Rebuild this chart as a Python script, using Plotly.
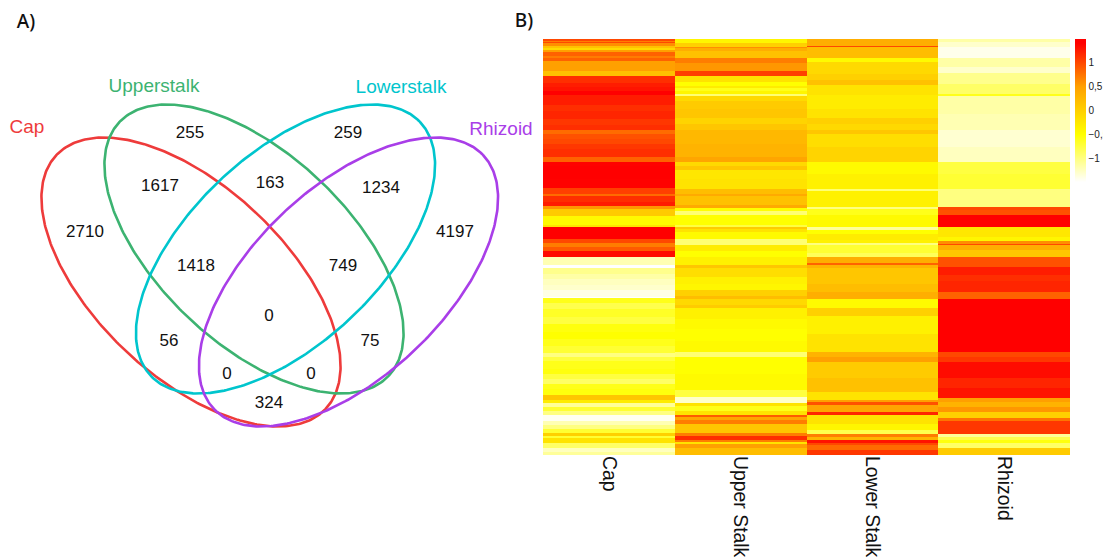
import numpy as np
import plotly.graph_objects as go

# ---- Venn data ----
SET_NAMES = ["Cap", "Upperstalk", "Lowerstalk", "Rhizoid"]
SET_COLORS = ["#EE3B3B", "#3CB371", "#00C5CD", "#A93EE8"]
COUNTS = [2710, 255, 259, 4197, 1617, 163, 1234, 1418, 749, 0, 56, 75, 0, 0, 324]

# ---- Heatmap data: (last row of band, value) ----
CATEGORIES = ["Cap", "Upper Stalk", "Lower Stalk", "Rhizoid"]
CAP = [(2,1.0),(3,0.7),(4,1.0),(7,0.6),(9,0.15),(11,-0.1),(13,0.5),(17,0.85),(19,0.7),(22,0.85),(32,0.5),(37,0.15),
       (44,1.15),(48,1.25),(52,1.3),(56,1.45),(66,1.25),(72,1.15),(80,1.2),(86,1.1),(91,1.15),(95,0.8),(100,0.95),(105,1.0),(110,1.1),(118,1.15),(123,0.85),
       (127,1.4),(131,1.45),(140,1.5),(149,1.4),(155,1.05),(157,0.8),(163,1.15),(167,1.25),(170,0.55),(177,0.05),(186,-0.45),(188,-0.2),
       (200,1.5),(204,1.0),(208,0.7),(212,0.9),(218,1.35),(226,-1.2),(229,-1.5),(235,-1.05),(240,-1.15),(246,-1.25),(251,-1.3),(258,-1.4),(259,-1.5),
       (264,-0.6),(270,-0.8),(278,-0.65),(285,-0.75),(293,-0.55),(300,-0.5),(307,-0.6),(314,-0.7),(318,-1.0),(322,-0.75),(330,-0.6),(335,-0.55),(340,-0.75),(345,-0.9),(350,-0.6),(356,-0.55),(361,0.1),(364,-0.3),
       (368,-1.1),(372,-0.7),(376,-1.0),(382,-1.45),(386,-1.2),(390,-1.0),(394,-0.7),(397,0.0),(399,-0.7),(404,-0.2),(409,-0.9),(413,-1.25),(416,-1.1)]
UPPER = [(4,-0.4),(8,0.0),(9,0.6),(12,0.35),(19,0.15),(24,0.7),(32,0.55),(37,1.05),(43,-0.2),(47,-0.5),(49,-0.3),(52,-0.6),(55,-0.4),(57,-0.95),
         (62,-0.1),(70,0.05),(79,0.1),(85,-0.05),(91,0.1),(105,0.25),(118,0.3),(123,0.45),(127,-0.1),(131,0.1),(140,-0.25),(150,-0.2),(155,0.2),(157,0.4),(166,0.15),(169,0.4),
         (172,-0.5),(176,-0.95),(186,-0.5),(188,-0.75),(190,0.05),(193,-0.2),(200,-0.45),(206,-0.95),(212,-0.3),(218,-0.5),
         (226,-0.35),(229,0.1),(238,-0.15),(245,-0.35),(251,-0.4),(257,0.0),(260,0.2),(266,-0.1),(269,0.05),(280,-0.35),(290,-0.45),(302,-0.5),(313,-0.45),(318,-0.95),(335,-0.5),(351,-0.45),(358,-0.75),
         (364,-1.3),(367,-0.2),(372,-0.6),(376,-0.2),(378,0.9),(381,0.45),(385,0.7),(394,0.1),(397,0.7),(401,1.15),(403,0.7),(405,-0.2),(409,0.5),(416,0.2)]
LOWER = [(7,0.35),(8,1.0),(19,0.2),(23,-0.45),(35,-0.1),(41,0.0),(46,0.15),(56,-0.2),(70,-0.3),(79,-0.2),(85,0.0),(91,-0.1),(95,0.1),(108,-0.15),(123,-0.05),
         (135,-0.45),(150,-0.35),(152,-0.95),(168,-0.35),(170,-1.0),(176,-0.6),(188,-0.45),(191,-1.1),(195,-0.5),(201,-0.3),
         (204,-0.35),(206,-1.0),(214,-0.7),(218,-0.85),(224,0.35),(226,0.85),(229,0.3),(245,0.1),(253,0.2),(260,0.35),(269,-0.45),(277,0.0),(295,-0.35),(313,-0.2),
         (318,0.3),(323,0.5),(339,0.05),(353,0.15),(361,-0.2),(363,0.5),(366,0.95),(373,0.45),(376,1.2),(385,-0.2),(391,-0.4),(395,-0.8),(398,0.7),(401,0.3),(404,1.3),(406,1.0),(411,0.8),(416,1.1)]
RHIZOID = [(3,-1.15),(8,-1.3),(19,-1.42),(28,-1.15),(34,-1.3),(45,-1.05),(55,-0.9),(57,-0.6),(75,-1.15),(91,-1.2),(108,-1.32),(123,-1.25),(135,-0.75),(150,-0.7),(168,-1.0),
           (171,1.0),(176,0.95),(188,1.5),(198,-0.25),(202,-0.4),(205,0.6),(206,1.0),(211,0.35),(218,0.1),(228,0.95),
           (236,1.25),(242,1.15),(253,1.2),(260,0.85),(313,1.5),(318,1.0),(323,1.1),(339,1.35),(349,1.2),(359,1.3),(363,0.5),(368,0.3),(373,0.55),(379,0.0),(382,0.75),(395,1.1),(398,-1.1),(401,-0.8),(404,-0.55),(409,-0.9),(416,0.05)]

COLORBAR_TICKS = [-1, -0.5, 0, 0.5, 1]
COLORBAR_LABELS = ["\u22121", "\u22120,5", "0", "0,5", "1"]


def expand(bands):
    out, start = [], 0
    for end, value in bands:
        out.extend([value] * (end - start))
        start = end
    return out


W, H = 1103, 558
z = np.array([expand(c) for c in (CAP, UPPER, LOWER, RHIZOID)]).T

fig = go.Figure()

fig.add_trace(go.Heatmap(
    z=z, x=CATEGORIES, zmin=-1.5, zmax=1.5,
    colorscale=[[0, "#FFFFFF"], [1/3, "#FFFF00"], [2/3, "#FFA000"], [0.97, "#FF0000"], [1, "#FF0000"]],
    xaxis="x", yaxis="y", hoverinfo="skip",
    colorbar=dict(
        thickness=11, thicknessmode="pixels", len=143, lenmode="pixels",
        x=1075 / W, xanchor="left", xpad=0, y=1 - 39 / H, yanchor="top", ypad=0,
        outlinewidth=0, borderwidth=0, ticks="", tickvals=COLORBAR_TICKS, ticktext=COLORBAR_LABELS,
        ticklabelposition="outside",
        tickfont=dict(family="Liberation Sans", size=10, color="#222222"),
    ),
))

# Venn ellipses: centre x, centre y, tilt (page pixels on overlay axes)
ELLIPSES = [(191, 282, 43.3), (254, 249, 43.3), (285.5, 249, -43.3), (348.5, 282, -43.3)]
A, B = 185, 95
t = np.radians(np.arange(0, 361, 1.0))
for (cx, cy, ang), name, col in zip(ELLIPSES, SET_NAMES, SET_COLORS):
    th = np.radians(ang)
    ex = cx + A * np.cos(t) * np.cos(th) - B * np.sin(t) * np.sin(th)
    ey = cy + A * np.cos(t) * np.sin(th) + B * np.sin(t) * np.cos(th)
    fig.add_trace(go.Scatter(x=ex, y=ey, mode="lines", line=dict(color=col, width=2.6),
                             xaxis="x2", yaxis="y2", showlegend=False, hoverinfo="skip", name=name))

COUNT_POS = [(85, 233), (190, 134), (348, 134), (455, 233), (160, 187), (270, 184), (381, 189),
             (196, 267), (343, 267), (269, 317), (169, 342), (370, 342), (227, 375), (311, 375), (269, 404)]
fig.add_trace(go.Scatter(
    x=[p[0] for p in COUNT_POS], y=[p[1] for p in COUNT_POS], mode="text",
    text=[str(c) for c in COUNTS], textposition="middle center",
    textfont=dict(family="Liberation Sans", size=17, color="#111111"),
    xaxis="x2", yaxis="y2", showlegend=False, hoverinfo="skip",
))
LABEL_POS = [(27, 128), (154, 87), (401, 88), (501, 130)]
fig.add_trace(go.Scatter(
    x=[p[0] for p in LABEL_POS], y=[p[1] for p in LABEL_POS], mode="text",
    text=SET_NAMES, textposition="middle center",
    textfont=dict(family="Liberation Sans", size=19, color=SET_COLORS),
    xaxis="x2", yaxis="y2", showlegend=False, hoverinfo="skip",
))
fig.add_trace(go.Scatter(
    x=[26, 524], y=[23, 22], mode="text", text=["A)", "B)"], textposition="middle center",
    textfont=dict(family="Noto Sans", size=19, weight=500, color="#111111"),
    xaxis="x2", yaxis="y2", showlegend=False, hoverinfo="skip",
))

fig.update_layout(
    width=W, height=H, autosize=False,
    margin=dict(l=0, r=0, t=0, b=0, autoexpand=False),
    paper_bgcolor="white", plot_bgcolor="rgba(0,0,0,0)",
    showlegend=False,
    xaxis=dict(domain=[543 / W, 1070 / W], tickangle=90, ticks="", showgrid=False, zeroline=False,
               showline=False, automargin=False, tickfont=dict(family="Liberation Sans", size=19.4, color="#111111"),
               anchor="y"),
    yaxis=dict(domain=[1 - 455 / H, 1 - 39 / H], autorange="reversed", showticklabels=False, ticks="",
               showgrid=False, zeroline=False, showline=False, automargin=False, anchor="x"),
    xaxis2=dict(domain=[0, 1], range=[0, W], visible=False, fixedrange=True, anchor="y2"),
    yaxis2=dict(domain=[0, 1], range=[H, 0], visible=False, fixedrange=True, anchor="x2"),
)

fig.write_html("out.html", config=dict(displayModeBar=False),
               post_script="document.body.style.margin='0';document.body.style.overflow='hidden';")
